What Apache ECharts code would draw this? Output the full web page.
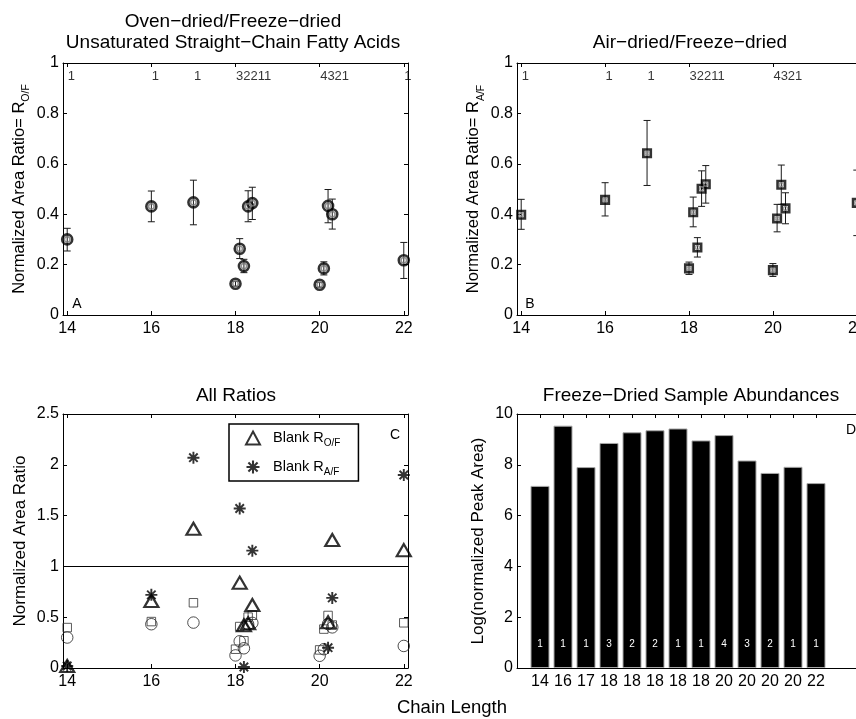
<!DOCTYPE html>
<html>
<head>
<meta charset="utf-8">
<script src="https://cdn.jsdelivr.net/npm/echarts@6/dist/echarts.min.js"></script>
<style>
  html, body { margin: 0; padding: 0; background: #fff; }
  #chart { width: 856px; height: 719px; }
</style>
</head>
<body>
<div id="chart"></div>
<script>
// chain length positions (isomers offset by 0.1)
var xPos = [14, 16, 17, 18, 18.1, 18.2, 18.3, 18.4, 20, 20.1, 20.2, 20.3, 22];

// oven-dried / freeze-dried
var rOF     = [0.300, 0.431, 0.447, 0.124, 0.263, 0.194, 0.431, 0.444, 0.120, 0.185, 0.433, 0.400, 0.217];
var rOFLow  = [0.254, 0.370, 0.358, 0.114, 0.224, 0.168, 0.370, 0.379, 0.110, 0.159, 0.366, 0.341, 0.145];
var rOFHigh = [0.344, 0.492, 0.535, 0.134, 0.303, 0.221, 0.493, 0.507, 0.130, 0.211, 0.498, 0.460, 0.288];

// air-dried / freeze-dried
var rAF     = [0.398, 0.457, 0.642, 0.185, 0.408, 0.268, 0.501, 0.519, 0.178, 0.383, 0.517, 0.423, 0.445];
var rAFLow  = [0.340, 0.393, 0.514, 0.161, 0.350, 0.230, 0.431, 0.444, 0.153, 0.330, 0.439, 0.362, 0.315];
var rAFHigh = [0.459, 0.525, 0.772, 0.210, 0.468, 0.307, 0.572, 0.593, 0.204, 0.439, 0.595, 0.485, 0.575];

// blanks
var blankOF = [0.02, 0.66, 1.37, null, 0.84, 0.42, 0.44, 0.62, null, null, 0.45, 1.26, 1.16];
var blankAF = [0.02, 0.72, 2.07, null, 1.57, 0.01, null, 1.155, null, null, 0.20, 0.69, 1.90];

// double bond counts written along the top of A and B
var topLabelX = [14, 16, 17, 18, 20, 22];
var topLabelText = ['1', '1', '1', '32211', '4321', '1'];

// panel D
var barChain = ['14', '16', '17', '18', '18', '18', '18', '18', '20', '20', '20', '20', '22'];
var barValue = [7.17, 9.54, 7.91, 8.86, 9.28, 9.36, 9.43, 8.96, 9.17, 8.17, 7.68, 7.92, 7.28];
var barBonds = ['1', '1', '1', '3', '2', '2', '1', '1', '4', '3', '2', '1', '1'];
var barTicks = [1, 2, 3, 4, 5, 6, 7, 8, 9, 10, 11, 12, 13];
var chainTicks = [14, 16, 18, 20, 22];

var FONT = '"Liberation Sans", Arial, Helvetica, sans-serif';
var STAR = 'path://M4.2 0L5.8 0L5.8 10L4.2 10Z M0 4.2L10 4.2L10 5.8L0 5.8Z M0.9 2.05L2.05 0.9L9.1 7.95L7.95 9.1Z M7.95 0.9L9.1 2.05L2.05 9.1L0.9 7.95Z';

var chart = echarts.init(document.getElementById('chart'));

function xAxes(grid, min, max, ticks, fmt) {
  var line = { show: true, onZero: false, lineStyle: { color: '#000', width: 1 } };
  var tick = { show: true, inside: true, length: 4, customValues: ticks, lineStyle: { color: '#000' } };
  return [
    { gridIndex: grid, type: 'value', position: 'bottom', min: min, max: max,
      axisLine: line, axisTick: tick, splitLine: { show: false },
      axisLabel: { customValues: ticks, color: '#000', fontSize: 16, fontFamily: FONT, margin: 6,
                   formatter: fmt } },
    { gridIndex: grid, type: 'value', position: 'top', min: min, max: max,
      axisLine: line, axisTick: tick, splitLine: { show: false }, axisLabel: { show: false } }
  ];
}

function yAxes(grid, max, interval, name, gap, nameSize) {
  var line = { show: true, onZero: false, lineStyle: { color: '#000', width: 1 } };
  var tick = { show: true, inside: true, length: 4, lineStyle: { color: '#000' } };
  return [
    { gridIndex: grid, type: 'value', position: 'left', min: 0, max: max, interval: interval,
      axisLine: line, axisTick: tick, splitLine: { show: false },
      axisLabel: { color: '#000', fontSize: 16, fontFamily: FONT, margin: 4 },
      name: name, nameLocation: 'middle', nameGap: gap,
      nameTextStyle: { color: '#000', fontSize: nameSize, fontFamily: FONT, lineHeight: 26,
        rich: { sub: { fontSize: 10.5, fontFamily: FONT, color: '#000', lineHeight: 12, verticalAlign: 'bottom' } } } },
    { gridIndex: grid, type: 'value', position: 'right', min: 0, max: max, interval: interval,
      axisLine: line, axisTick: tick, splitLine: { show: false }, axisLabel: { show: false } }
  ];
}

function errSeries(ax, lo, hi) {
  return {
    type: 'custom', xAxisIndex: ax, yAxisIndex: ax, silent: true, z: 2,
    data: xPos.map(function (x, i) { return [x, lo[i], hi[i]]; }),
    renderItem: function (params, api) {
      var x = api.value(0);
      var a = api.coord([x, api.value(1)]);
      var b = api.coord([x, api.value(2)]);
      var w = 3.5;
      var st = { stroke: '#1a1a1a', lineWidth: 1 };
      return { type: 'group', children: [
        { type: 'line', shape: { x1: a[0], y1: a[1], x2: b[0], y2: b[1] }, style: st },
        { type: 'line', shape: { x1: a[0] - w, y1: a[1], x2: a[0] + w, y2: a[1] }, style: st },
        { type: 'line', shape: { x1: b[0] - w, y1: b[1], x2: b[0] + w, y2: b[1] }, style: st }
      ] };
    }
  };
}

function pts(vals) {
  var out = [];
  vals.forEach(function (v, i) { if (v !== null) out.push([xPos[i], v]); });
  return out;
}

function topLabels(ax) {
  return {
    type: 'scatter', xAxisIndex: ax, yAxisIndex: ax, silent: true, symbolSize: 1,
    itemStyle: { color: 'rgba(0,0,0,0)' },
    data: topLabelX.map(function (x) { return [x, 0.948]; }),
    label: { show: true, position: 'right', distance: 0, color: '#000', fontSize: 13, fontFamily: FONT,
             formatter: function (p) { return topLabelText[p.dataIndex]; } }
  };
}

function text(x, y, s, size) {
  return { type: 'text', x: x, y: y, silent: true,
    style: { text: s, font: size + 'px ' + FONT, fill: '#000',
             textAlign: 'center', textVerticalAlign: 'middle', align: 'center', verticalAlign: 'middle' } };
}

var xAxis = [].concat(
  xAxes(0, 13.9, 22.1, chainTicks),
  xAxes(1, 13.9, 22.1, chainTicks),
  xAxes(2, 13.9, 22.1, chainTicks),
  xAxes(3, 0, 15, barTicks, function (v) { return barChain[Math.round(v) - 1] || ''; })
);
var yAxis = [].concat(
  yAxes(0, 1, 0.2, 'Normalized Area Ratio= R{sub|O/F}', 31, 16.5),
  yAxes(1, 1, 0.2, 'Normalized Area Ratio= R{sub|A/F}', 29, 16.5),
  yAxes(2, 2.5, 0.5, 'Normalized Area Ratio', 24, 17),
  yAxes(3, 10, 2, 'Log(normalized Peak Area)', 18, 17)
);

var option = {
  animation: false,
  backgroundColor: '#fff',
  grid: [
    { left: 63, top: 63, width: 345, height: 252, containLabel: false, outerBoundsMode: 'none' },
    { left: 517, top: 63, width: 344, height: 252, containLabel: false, outerBoundsMode: 'none' },
    { left: 63, top: 414, width: 345, height: 254, containLabel: false, outerBoundsMode: 'none' },
    { left: 517, top: 414, width: 345, height: 254, containLabel: false, outerBoundsMode: 'none' }
  ],
  xAxis: xAxis,
  yAxis: yAxis,
  legend: {
    data: ['Blank R_O/F', 'Blank R_A/F'],
    left: 229, top: 424, orient: 'vertical',
    borderColor: '#000', borderWidth: 1.5, padding: [4, 18, 4, 16],
    itemGap: 9, itemWidth: 14, itemHeight: 13, selectedMode: false,
    formatter: function (n) { return n === 'Blank R_O/F' ? 'Blank R{sub|O/F}' : 'Blank R{sub|A/F}'; },
    textStyle: { color: '#000', fontSize: 14.5, fontFamily: FONT, lineHeight: 20, padding: [0, 0, 0, 8],
      rich: { sub: { fontSize: 10, fontFamily: FONT, color: '#000', lineHeight: 11, verticalAlign: 'bottom' } } }
  },
  graphic: [
    text(233, 22, 'Oven\u2212dried/Freeze\u2212dried', 19),
    text(233, 43, 'Unsaturated Straight\u2212Chain Fatty Acids', 19),
    text(690, 43, 'Air\u2212dried/Freeze\u2212dried', 19),
    text(236, 396, 'All Ratios', 19),
    text(691, 396, 'Freeze\u2212Dried Sample Abundances', 19),
    text(452, 708, 'Chain Length', 18.5),
    text(77, 304, 'A', 14),
    text(530, 304, 'B', 14),
    text(395, 435, 'C', 14),
    text(851, 430, 'D', 14)
  ],
  series: [
    // panel A
    errSeries(0, rOFLow, rOFHigh),
    { type: 'scatter', xAxisIndex: 0, yAxisIndex: 0, data: pts(rOF), symbol: 'circle', symbolSize: 10, z: 3,
      itemStyle: { color: 'rgba(0,0,0,0)', borderColor: '#000', borderWidth: 2.6 } },
    { type: 'scatter', xAxisIndex: 0, yAxisIndex: 0, data: pts(rOF), symbol: 'circle', symbolSize: 5.5, z: 3,
      itemStyle: { color: 'rgba(0,0,0,0)', borderColor: '#777', borderWidth: 1.6 } },
    topLabels(0),
    // panel B
    errSeries(2, rAFLow, rAFHigh),
    { type: 'scatter', xAxisIndex: 2, yAxisIndex: 2, data: pts(rAF), symbol: 'rect', symbolSize: 7.5, z: 3,
      itemStyle: { color: 'rgba(0,0,0,0)', borderColor: '#000', borderWidth: 2.6 } },
    { type: 'scatter', xAxisIndex: 2, yAxisIndex: 2, data: pts(rAF), symbol: 'circle', symbolSize: 4, z: 3,
      itemStyle: { color: 'rgba(0,0,0,0)', borderColor: '#888', borderWidth: 1.3 } },
    topLabels(2),
    // panel C
    { type: 'scatter', xAxisIndex: 4, yAxisIndex: 4, data: pts(rOF), symbol: 'circle', symbolSize: 11.5,
      itemStyle: { color: 'rgba(0,0,0,0)', borderColor: '#222', borderWidth: 1 },
      markLine: { silent: true, symbol: 'none', label: { show: false },
                  lineStyle: { color: '#000', width: 1, type: 'solid' }, data: [{ yAxis: 1 }] } },
    { type: 'scatter', xAxisIndex: 4, yAxisIndex: 4, data: pts(rAF), symbol: 'rect', symbolSize: 8.5,
      itemStyle: { color: 'rgba(0,0,0,0)', borderColor: '#333', borderWidth: 1 } },
    { name: 'Blank R_O/F', type: 'scatter', xAxisIndex: 4, yAxisIndex: 4, data: pts(blankOF),
      symbol: 'triangle', symbolSize: [14, 12],
      itemStyle: { color: 'rgba(0,0,0,0)', borderColor: '#000', borderWidth: 2.2 } },
    { name: 'Blank R_A/F', type: 'scatter', xAxisIndex: 4, yAxisIndex: 4, data: pts(blankAF),
      symbol: STAR, symbolSize: 12, itemStyle: { color: '#000' } },
    // panel D
    { type: 'bar', xAxisIndex: 6, yAxisIndex: 6, barWidth: 19,
      data: barValue.map(function (v, i) { return [barTicks[i], v]; }),
      itemStyle: { color: '#000', borderColor: '#a8a8a8', borderWidth: 1 },
      label: { show: true, position: 'insideBottom', distance: 19, color: '#fff', fontSize: 10, fontFamily: FONT,
               formatter: function (p) { return barBonds[p.dataIndex]; } } }
  ]
};

chart.setOption(option);
</script>
</body>
</html>
